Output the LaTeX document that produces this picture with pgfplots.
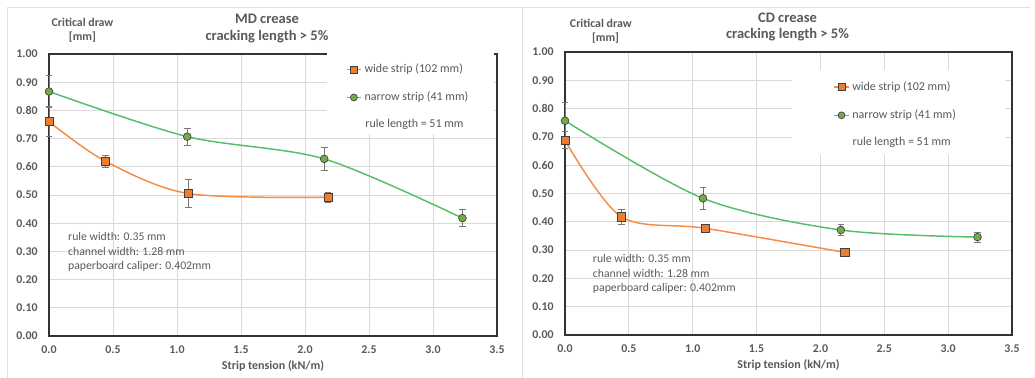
\documentclass[border=0pt]{standalone}
\usepackage{fontspec}
\setmainfont{Carlito}
\usepackage{pgfplots}
\pgfplotsset{compat=1.18}
\definecolor{orl}{RGB}{245,140,70}
\definecolor{orf}{RGB}{237,125,49}
\definecolor{grl}{RGB}{85,190,105}
\definecolor{grf}{RGB}{112,173,71}
\definecolor{tg}{RGB}{89,89,89}
\definecolor{gridc}{RGB}{217,217,217}
\definecolor{framec}{RGB}{225,225,225}
\definecolor{errc}{RGB}{120,120,120}

\pgfplotsset{
  panel/.style={
    scale only axis,
    xmin=0, xmax=3.5, ymin=0, ymax=1,
    xtick={0,0.5,1,1.5,2,2.5,3,3.5},
    ytick={0,0.1,0.2,0.3,0.4,0.5,0.6,0.7,0.8,0.9,1},
    grid=major,
    major grid style={gridc, line width=0.6pt},
    axis line style={black!80, line width=0.9pt},
    tick style={draw=none},
    /pgf/number format/assume math mode=true,
    x tick label style={/pgf/number format/.cd, fixed, fixed zerofill, precision=1, /tikz/.cd, yshift=-4pt},
    y tick label style={/pgf/number format/.cd, fixed, fixed zerofill, precision=2, /tikz/.cd, xshift=-5pt},
    ticklabel style={font=\bfseries\fontsize{8.9}{10}\selectfont, text=tg},
    xlabel={Strip tension (kN/m)},
    xlabel style={font=\bfseries\fontsize{9}{11}\selectfont, text=tg, at={(axis description cs:0.5,0)}, anchor=center, yshift=-22.5pt},
    clip=false,
    legend cell align=left,
    legend style={draw=none, fill=none, font=\fontsize{9}{11}\selectfont, text=tg, row sep=9pt, inner sep=0pt, anchor=north west},
    legend image code/.code={\draw[mark repeat=2, mark phase=2, #1, mark size=2.6pt] plot coordinates {(0pt,0pt) (5.5pt,0pt) (11pt,0pt)};},
  },
  wide/.style={orl, line width=1.1pt, smooth, mark=square*, mark size=3.1pt,
    mark options={fill=orf, draw=black!75, line width=0.5pt, solid},
    error bars/.cd, y dir=both, y explicit,
    error bar style={errc, line width=0.6pt},
    error mark options={rotate=90, errc, mark size=2.5pt, line width=0.6pt}},
  narrow/.style={grl, line width=1.1pt, smooth, mark=*, mark size=2.9pt,
    mark options={fill=grf, draw=black!75, line width=0.5pt, solid},
    error bars/.cd, y dir=both, y explicit,
    error bar style={errc, line width=0.6pt},
    error mark options={rotate=90, errc, mark size=2.5pt, line width=0.6pt}},
}

\begin{document}
\begin{tikzpicture}
\path[use as bounding box] (0,0) rectangle (776.25pt,-283.5pt);
% panel frames
\draw[framec, line width=0.6pt] (5.25pt,-283.5pt) -- (5.25pt,-5.25pt) -- (772.5pt,-5.25pt);
\draw[framec, line width=0.6pt] (391.5pt,-283.5pt) -- (391.5pt,-5.25pt);

% ---------- Left: MD crease ----------
\begin{axis}[panel, at={(36.75pt,-252pt)}, anchor=south west, width=336pt, height=211.5pt,
  legend style={at={(axis description cs:0.662,0.975)}}]
\addplot+[wide] table[x=x, y=y, y error=e] {
x y e
0.00 0.760 0.053
0.44 0.620 0.022
1.09 0.505 0.050
2.18 0.492 0.018
};
\addlegendentry{wide strip (102 mm)}
\addplot+[narrow] table[x=x, y=y, y error=e] {
x y e
0.00 0.867 0.058
1.08 0.707 0.030
2.15 0.628 0.040
3.23 0.418 0.030
};
\addlegendentry{narrow strip (41 mm)}
\fill[white] (axis cs:2.17,1.006) rectangle (axis cs:3.475,0.716);
\node[font=\fontsize{9}{11}\selectfont, text=tg] at (axis cs:2.855,0.752) {rule length = 51 mm};
\node[font=\fontsize{8.8}{10}\selectfont, text=tg, anchor=west, inner sep=0pt] at (axis cs:0.148,0.352) {rule width: 0.35 mm};
\node[font=\fontsize{8.8}{10}\selectfont, text=tg, anchor=west, inner sep=0pt] at (axis cs:0.148,0.300) {channel width: 1.28 mm};
\node[font=\fontsize{8.8}{10}\selectfont, text=tg, anchor=west, inner sep=0pt] at (axis cs:0.148,0.248) {paperboard caliper: 0.402mm};
\end{axis}

% ---------- Right: CD crease ----------
\begin{axis}[panel, at={(423.75pt,-251.25pt)}, anchor=south west, width=335.25pt, height=212.25pt,
  legend style={at={(axis description cs:0.600,0.905)}}]
\addplot+[wide] table[x=x, y=y, y error=e] {
x y e
0.00 0.688 0.030
0.44 0.418 0.026
1.10 0.377 0.010
2.19 0.292 0.000
};
\addlegendentry{wide strip (102 mm)}
\addplot+[narrow] table[x=x, y=y, y error=e] {
x y e
0.00 0.757 0.065
1.08 0.483 0.040
2.16 0.371 0.020
3.23 0.346 0.018
};
\addlegendentry{narrow strip (41 mm)}
\fill[white] (axis cs:1.777,0.936) rectangle (axis cs:3.445,0.636);
\node[font=\fontsize{9}{11}\selectfont, text=tg] at (axis cs:2.636,0.681) {rule length = 51 mm};
\node[font=\fontsize{8.8}{10}\selectfont, text=tg, anchor=west, inner sep=0pt] at (axis cs:0.217,0.269) {rule width: 0.35 mm};
\node[font=\fontsize{8.8}{10}\selectfont, text=tg, anchor=west, inner sep=0pt] at (axis cs:0.217,0.219) {channel width: 1.28 mm};
\node[font=\fontsize{8.8}{10}\selectfont, text=tg, anchor=west, inner sep=0pt] at (axis cs:0.217,0.166) {paperboard caliper: 0.402mm};
\end{axis}

% ---------- titles (pixel coordinates) ----------
\begin{scope}[x=0.75pt, y=-0.75pt]
\node[font=\bfseries\fontsize{8.9}{10}\selectfont, text=tg] at (82.5,22.7) {Critical draw};
\node[font=\bfseries\fontsize{8.9}{10}\selectfont, text=tg] at (82.5,37) {[mm]};
\node[font=\bfseries\fontsize{10.9}{12}\selectfont, text=tg] at (267,19) {MD crease};
\node[font=\bfseries\fontsize{10.9}{12}\selectfont, text=tg] at (267,37) {cracking length > 5\%};
\node[font=\bfseries\fontsize{8.9}{10}\selectfont, text=tg] at (600.8,23.7) {Critical draw};
\node[font=\bfseries\fontsize{8.9}{10}\selectfont, text=tg] at (605.5,38) {[mm]};
\node[font=\bfseries\fontsize{10.9}{12}\selectfont, text=tg] at (787.5,17.3) {CD crease};
\node[font=\bfseries\fontsize{10.9}{12}\selectfont, text=tg] at (787.5,35) {cracking length > 5\%};
\end{scope}
\end{tikzpicture}
\end{document}
